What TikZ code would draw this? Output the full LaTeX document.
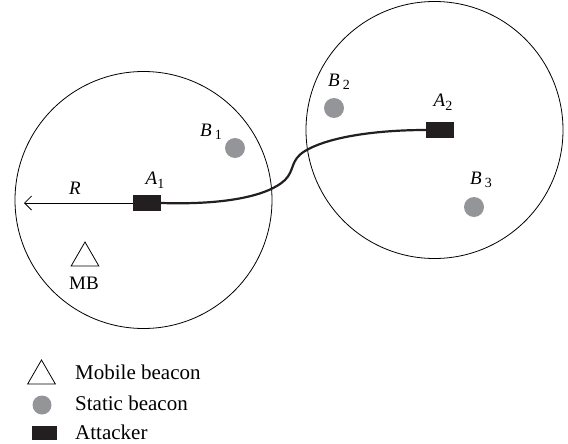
\documentclass[tikz,border=0pt]{standalone}
\usepackage{fontspec}
\setmainfont{Liberation Serif}
\usepackage{tikz}
\usetikzlibrary{arrows.meta, shapes.geometric}

\definecolor{beacongray}{HTML}{939598}
\definecolor{attackblack}{HTML}{231F20}

% italic letter with an upright index, as in the labels of the figure
\newcommand{\idxlab}[2]{\textit{#1}\,\raisebox{-0.4ex}{\fontsize{14}{14}\selectfont #2}}

\begin{document}
\begin{tikzpicture}[
            font=\fontsize{19}{22}\selectfont,
            >={Straight Barb[length=7pt, width=14pt]},
            zone/.style   ={draw, circle, line width=0.8pt, minimum size=257pt, inner sep=0pt},
            statb/.style  ={circle, fill=beacongray, minimum size=20pt, inner sep=0pt},
            attk/.style   ={rectangle, fill=attackblack, minimum width=28pt,
                    minimum height=16pt, inner sep=0pt},
            mobb/.style   ={draw, regular polygon, regular polygon sides=3,
                    line width=0.8pt, minimum size=32pt, inner sep=0pt},
            link/.style   ={line width=2.2pt, draw=attackblack},
            ray/.style    ={->, line width=0.8pt},
            lab/.style    ={inner sep=0pt},
            legtext/.style={inner sep=0pt, anchor=west, font=\fontsize{21}{24}\selectfont},
            x=1pt, y=-1pt
        ]
        \useasboundingbox (0,0) rectangle (568,444);

        %% --- the two ranges ---
        \node[zone] (zoneL) at (143.5,200) {};
        \node[zone] (zoneR) at (434.5,130) {};

        %% --- static beacons ---
        \node[statb] (b1) at (235,148) {};
        \node[statb] (b2) at (334,108) {};
        \node[statb] (b3) at (474,207) {};
        \node[lab] (b1lab) at (211,132) {\idxlab{B}{1}};
        \node[lab] (b2lab) at (339,82)  {\idxlab{B}{2}};
        \node[lab] (b3lab) at (481,180) {\idxlab{B}{3}};

        %% --- attackers ---
        \node[attk] (a1) at (147,203) {};
        \node[attk] (a2) at (440,130) {};
        \node[lab] (a1lab) at (155,180) {\textit{A}\raisebox{-0.4ex}{\fontsize{14}{14}\selectfont 1}};
        \node[lab] (a2lab) at (443,102) {\textit{A}\raisebox{-0.4ex}{\fontsize{14}{14}\selectfont 2}};

        %% --- mobile beacon ---
        \node[mobb] (mb) at (85,258) {};
        \node[lab] (mblab) at (84,283) {MB};

        %% --- range R ---
        \coordinate (rtip) at (24,203);
        \draw[ray] (a1.west) -- (rtip);
        \node[lab] (rlab) at (75,188) {\textit{R}};

        %% --- wormhole between the attackers ---
        \coordinate (wig1) at (285,180);
        \coordinate (wig2) at (305,151);
        \draw[link] (a1.east) .. controls (225,205) and (268,196) .. (wig1)
                    .. controls (295,170) and (290,160) .. (wig2)
                    .. controls (330,136) and (380,130) .. (a2.west);

        %% --- legend ---
        \node[mobb] (legmb) at (41.5,376) {};
        \node[statb, minimum size=19pt] (legsb) at (42,405) {};
        \node[attk, minimum width=25pt, minimum height=14pt] (legat) at (44.5,433) {};
        \node[legtext] (legmbt) at (75,372) {Mobile beacon};
        \node[legtext] (legsbt) at (75,403) {Static beacon};
        \node[legtext] (legatt) at (75,432) {Attacker};

    \end{tikzpicture}
\end{document}
